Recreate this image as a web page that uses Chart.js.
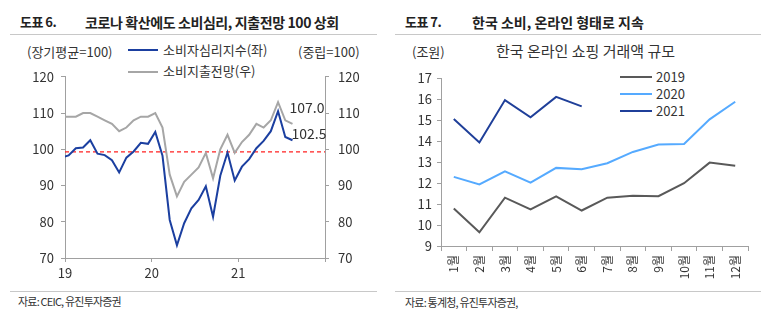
<!DOCTYPE html>
<html>
<head>
<meta charset="utf-8">
<script src="https://cdn.jsdelivr.net/npm/chart.js@4.4.1/dist/chart.umd.min.js"></script>
<style>
body { margin: 0; background: #fff; font-family: "Noto Sans CJK KR", "Noto Sans", sans-serif; color: #222; }
#wrap { position: relative; width: 773px; height: 325px; overflow: hidden; }
.t { position: absolute; white-space: nowrap; line-height: 20px; }
.hd { font-weight: bold; font-size: 13px; letter-spacing: -0.5px; }
.tit { font-weight: bold; font-size: 14px; letter-spacing: -0.4px; }
.sep { position: absolute; height: 1px; background: #c8c8c8; }
.unit { font-size: 13px; color: #333; }
.lg { font-size: 13px; color: #333; }
.ln { position: absolute; height: 2px; }
.src { font-size: 11px; letter-spacing: -0.8px; color: #333; }
canvas { position: absolute; }
</style>
</head>
<body>
<div id="wrap">
	<!-- 왼쪽 -->
	<div class="t hd" style="left:20px; top:12px;">도표 6.</div>
	<div class="t tit" style="left:85px; top:12px;">코로나 확산에도 소비심리, 지출전망 100 상회</div>
	<div class="sep" style="left:10px; top:34px; width:367px;"></div>
	<div class="t unit" style="left:27px; top:42px;">(장기평균=100)</div>
	<div class="t unit" style="left:298px; top:42px;">(중립=100)</div>
	<div class="ln" style="left:128px; top:49px; width:30px; background:#1b3fa0;"></div>
	<div class="t lg" style="left:163px; top:40px;">소비자심리지수(좌)</div>
	<div class="ln" style="left:128px; top:71px; width:30px; background:#a6a6a6;"></div>
	<div class="t lg" style="left:163px; top:61px;">소비지출전망(우)</div>
	<canvas id="c1" width="390" height="230" style="left:0; top:60px;"></canvas>
	<div class="sep" style="left:10px; top:291px; width:367px;"></div>
	<div class="t src" style="left:18px; top:291px;">자료: CEIC, 유진투자증권</div>

	<!-- 오른쪽 -->
	<div class="t hd" style="left:405px; top:12px;">도표 7.</div>
	<div class="t tit" style="left:472px; top:12px; letter-spacing:0;">한국 소비, 온라인 형태로 지속</div>
	<div class="sep" style="left:395px; top:34px; width:366px;"></div>
	<div class="t unit" style="left:412px; top:42px;">(조원)</div>
	<div class="t" style="left:496px; top:41px; font-size:15px; color:#333;">한국 온라인 쇼핑 거래액 규모</div>
	<div class="ln" style="left:620px; top:76px; width:32px; background:#595959;"></div>
	<div class="t lg" style="left:656px; top:67px;">2019</div>
	<div class="ln" style="left:620px; top:93px; width:32px; background:#55aaff;"></div>
	<div class="t lg" style="left:656px; top:84px;">2020</div>
	<div class="ln" style="left:620px; top:110px; width:32px; background:#1f3f99;"></div>
	<div class="t lg" style="left:656px; top:101px;">2021</div>
	<canvas id="c2" width="383" height="230" style="left:390px; top:60px;"></canvas>
	<div class="sep" style="left:395px; top:291px; width:366px;"></div>
	<div class="t src" style="left:405px; top:292px;">자료: 통계청, 유진투자증권,</div>
</div>
<script>
// 도표 6 : 2018.12 ~ 2021.08 월별
var yearLabels = ["19", "20", "21", ""];
var ccsi = [97.7,
	98.3, 100.3, 100.5, 102.5, 98.8, 98.4, 97.0, 93.6, 97.7, 99.4, 101.8, 101.5,
	104.8, 98.2, 80.5, 73.5, 79.6, 83.7, 86.0, 89.8, 81.4, 92.7, 99.1, 91.4,
	95.2, 97.3, 100.3, 102.3, 105.0, 110.5, 103.4, 102.5];
var spend = [109,
	109, 109, 110, 110, 109, 108, 107, 105, 106, 108, 109, 109,
	110, 106, 93, 87, 91, 93, 95, 99, 92, 100, 104, 99,
	102, 104, 107, 106, 108, 113, 108, 107];
var refLine = [99.3, 99.3];

// 도표 7 : 월별 온라인 쇼핑 거래액 (조원)
var months = ["1월", "2월", "3월", "4월", "5월", "6월", "7월", "8월", "9월", "10월", "11월", "12월"];
var y2019 = [10.79, 9.65, 11.3, 10.74, 11.36, 10.69, 11.3, 11.39, 11.37, 11.99, 12.97, 12.82];
var y2020 = [12.29, 11.93, 12.56, 12.02, 12.72, 12.66, 12.94, 13.48, 13.83, 13.86, 15.03, 15.87];
var y2021 = [15.05, 13.93, 15.95, 15.13, 16.1, 15.65];

var FONT = "'Noto Sans CJK KR', 'Noto Sans', sans-serif";
Chart.defaults.font.family = FONT;
Chart.defaults.color = "#333";

function toXY(arr) {
	// 첫 값은 2018.12, 월 가운데 위치
	return arr.map(function(v, i) { return {x: i - 0.5, y: v}; });
}

var endLabels = {
	id: "endLabels",
	afterDatasetsDraw: function(chart) {
		var c = chart.ctx;
		var xs = chart.scales.x;
		var last = ccsi.length - 1.5;
		c.save();
		c.font = "14px " + FONT;
		c.fillStyle = "#333";
		c.textBaseline = "middle";
		c.textAlign = "left";
		c.fillText(spend[spend.length - 1].toFixed(1), xs.getPixelForValue(last) - 3, chart.scales.y2.getPixelForValue(spend[spend.length - 1]) - 16);
		c.fillText(ccsi[ccsi.length - 1].toFixed(1), xs.getPixelForValue(last) - 1, chart.scales.y.getPixelForValue(ccsi[ccsi.length - 1]) - 7);
		c.restore();
	}
};

var axisGrid = { display: true, drawOnChartArea: false, drawTicks: true, tickLength: 4, color: "#a0a0a0" };

new Chart(document.getElementById("c1"), {
	type: "line",
	data: {
		datasets: [{
			data: toXY(ccsi),
			borderColor: "#1b3fa0",
			borderWidth: 2,
			pointRadius: 0,
			yAxisID: "y"
		}, {
			data: toXY(spend),
			borderColor: "#a6a6a6",
			borderWidth: 2,
			pointRadius: 0,
			yAxisID: "y2"
		}, {
			data: [{x: 0, y: refLine[0]}, {x: 36, y: refLine[1]}],
			borderColor: "#ff2020",
			borderWidth: 1.2,
			borderDash: [4, 3],
			pointRadius: 0,
			yAxisID: "y"
		}]
	},
	options: {
		responsive: false,
		animation: false,
		layout: { padding: { top: 15, left: 0, right: 0, bottom: 0 } },
		plugins: { legend: { display: false }, tooltip: { enabled: false } },
		scales: {
			x: {
				type: "linear", min: 0, max: 36,
				grid: axisGrid,
				border: { color: "#a0a0a0" },
				ticks: { stepSize: 12, padding: 3, font: { size: 13 }, maxRotation: 0,
					callback: function(v) { return yearLabels[v / 12]; } },
				afterFit: function(s) { s.height = 32; }
			},
			y: {
				position: "left", min: 70, max: 120,
				grid: axisGrid,
				border: { color: "#a0a0a0" },
				ticks: { stepSize: 10, padding: 7, font: { size: 13 } },
				afterFit: function(s) { s.width = 65; }
			},
			y2: {
				position: "right", min: 70, max: 120,
				grid: axisGrid,
				border: { color: "#a0a0a0" },
				ticks: { stepSize: 10, padding: 9, font: { size: 13 } },
				afterFit: function(s) { s.width = 65; }
			}
		}
	},
	plugins: [endLabels]
});

new Chart(document.getElementById("c2"), {
	type: "line",
	data: {
		labels: months,
		datasets: [{
			label: "2019",
			data: y2019,
			borderColor: "#595959",
			borderWidth: 2,
			pointRadius: 0
		}, {
			label: "2020",
			data: y2020,
			borderColor: "#55aaff",
			borderWidth: 2,
			pointRadius: 0
		}, {
			label: "2021",
			data: y2021,
			borderColor: "#1f3f99",
			borderWidth: 2,
			pointRadius: 0
		}]
	},
	options: {
		responsive: false,
		animation: false,
		layout: { padding: { top: 18, left: 0, right: 25, bottom: 0 } },
		plugins: { legend: { display: false }, tooltip: { enabled: false } },
		scales: {
			x: {
				offset: true,
				grid: { display: true, drawOnChartArea: false, drawTicks: true, tickLength: 5, offset: true, color: "#a0a0a0" },
				border: { color: "#a0a0a0" },
				ticks: { minRotation: 90, maxRotation: 90, padding: 4, font: { size: 12 }, autoSkip: false },
				afterFit: function(s) { s.height = 44; }
			},
			y: {
				min: 9, max: 17,
				grid: axisGrid,
				border: { color: "#a0a0a0" },
				ticks: { stepSize: 1, padding: 5, font: { size: 13 } },
				afterFit: function(s) { s.width = 51; }
			}
		}
	}
});
</script>
</body>
</html>
